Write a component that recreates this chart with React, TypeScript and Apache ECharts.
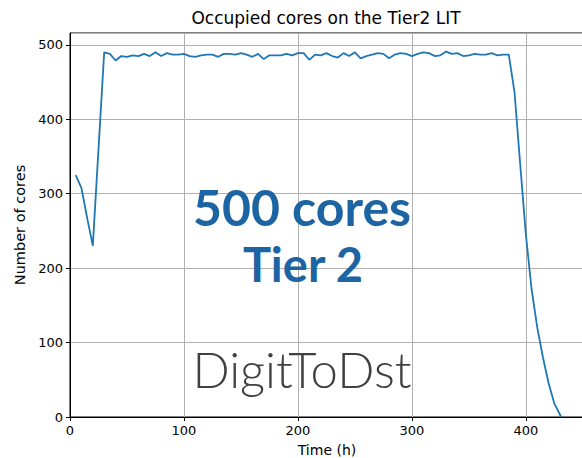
import React, { useEffect, useRef } from "react";
import * as echarts from "echarts";

const hours = [5, 10, 15, 20, 25, 30, 35, 40, 45, 50, 55, 60, 65, 70, 75, 80, 85, 90, 95, 100, 105, 110, 115, 120, 125, 130, 135, 140, 145, 150, 155, 160, 165, 170, 175, 180, 185, 190, 195, 200, 205, 210, 215, 220, 225, 230, 235, 240, 245, 250, 255, 260, 265, 270, 275, 280, 285, 290, 295, 300, 305, 310, 315, 320, 325, 330, 335, 340, 345, 350, 355, 360, 365, 370, 375, 380, 385, 390, 395, 400, 405, 410, 415, 420, 425, 431];
const cores = [325, 308, 268, 230, 360, 490, 488, 479, 485, 484, 486, 485, 488, 485, 490, 485, 489, 487, 487, 488, 485, 484, 486, 487, 487, 484, 488, 488, 487, 489, 487, 484, 488, 481, 486, 486, 486, 488, 486, 489, 489, 480, 487, 486, 489, 485, 483, 489, 485, 490, 482, 485, 487, 489, 488, 482, 487, 489, 488, 485, 488, 490, 489, 485, 486, 491, 488, 489, 485, 486, 488, 487, 487, 489, 486, 487, 487, 437, 340, 245, 172, 120, 80, 45, 18, 0];

const titleText = "Occupied cores on the Tier2 LIT";
const xName = "Time (h)";
const yName = "Number of cores";
const overlayLines = ["500 cores", "Tier 2"];
const watermark = "DigitToDst";

export default function App() {
  const ref = useRef<HTMLDivElement>(null);
  useEffect(() => {
    if (!ref.current) return;
    const chart = echarts.init(ref.current, undefined, { renderer: "svg" });
    const data = hours.map((h, i) => [h, cores[i]]);
    const fmt = (v: number) => (v % 100 === 0 ? String(v) : "");
    chart.setOption({
      animation: false,
      grid: {
        left: 70,
        right: -2,
        top: 33,
        bottom: 41,
        show: true,
        borderColor: "#000",
        borderWidth: 1,
        containLabel: false,
        outerBoundsMode: "none",
      },
      xAxis: {
        type: "value",
        min: 0,
        max: 451,
        interval: 100,
        name: xName,
        nameLocation: "middle",
        nameGap: 26,
        nameTextStyle: { fontFamily: "DejaVu Sans", fontSize: 14, color: "#000" },
        axisLine: { show: true, onZero: false, lineStyle: { color: "#000", width: 1 } },
        axisTick: { show: true, inside: false, length: 4, lineStyle: { color: "#000" } },
        axisLabel: { margin: 7, fontFamily: "DejaVu Sans", fontSize: 13, color: "#000", formatter: fmt, showMaxLabel: false },
        splitLine: { show: true, lineStyle: { color: "#b0b0b0", width: 1 } },
      },
      yAxis: {
        type: "value",
        min: 0,
        max: 516,
        interval: 100,
        name: yName,
        nameLocation: "middle",
        nameGap: 43,
        nameTextStyle: { fontFamily: "DejaVu Sans", fontSize: 14.5, color: "#000" },
        axisLine: { show: true, lineStyle: { color: "#000", width: 1 } },
        axisTick: { show: true, inside: false, length: 4, lineStyle: { color: "#000" } },
        axisLabel: { margin: 7, fontFamily: "DejaVu Sans", fontSize: 13, color: "#000", formatter: fmt, showMaxLabel: false },
        splitLine: { show: true, lineStyle: { color: "#b0b0b0", width: 1 } },
      },
      series: [
        {
          type: "line",
          data,
          showSymbol: false,
          symbol: "none",
          lineStyle: { color: "#1f77b4", width: 1.8 },
          z: 3,
        },
      ],
      graphic: [
        {
          type: "text",
          x: 326,
          y: 18,
          z: 10,
          style: {
            text: titleText,
            fontFamily: "DejaVu Sans",
            fontSize: 17,
            fill: "#000",
            textAlign: "center",
            textVerticalAlign: "middle",
          },
        },
        {
          type: "text",
          x: 302,
          y: 207,
          z: 10,
          style: {
            text: overlayLines[0],
            fontFamily: "Lato",
            fontWeight: "bold",
            fontSize: 50,
            fill: "#1c64a2",
            textAlign: "center",
            textVerticalAlign: "middle",
          },
        },
        {
          type: "text",
          x: 303,
          y: 264,
          z: 10,
          style: {
            text: overlayLines[1],
            fontFamily: "Lato",
            fontWeight: "bold",
            fontSize: 47,
            fill: "#1c64a2",
            textAlign: "center",
            textVerticalAlign: "middle",
          },
        },
        {
          type: "text",
          x: 302,
          y: 369,
          z: 10,
          style: {
            text: watermark,
            fontFamily: "Lato",
            fontWeight: 300,
            fontSize: 49,
            fill: "#404040",
            textAlign: "center",
            textVerticalAlign: "middle",
          },
        },
      ],
    });
    return () => chart.dispose();
  }, []);
  return <div ref={ref} style={{ width: 582, height: 458, position: "absolute", left: 0, top: 0 }} />;
}
